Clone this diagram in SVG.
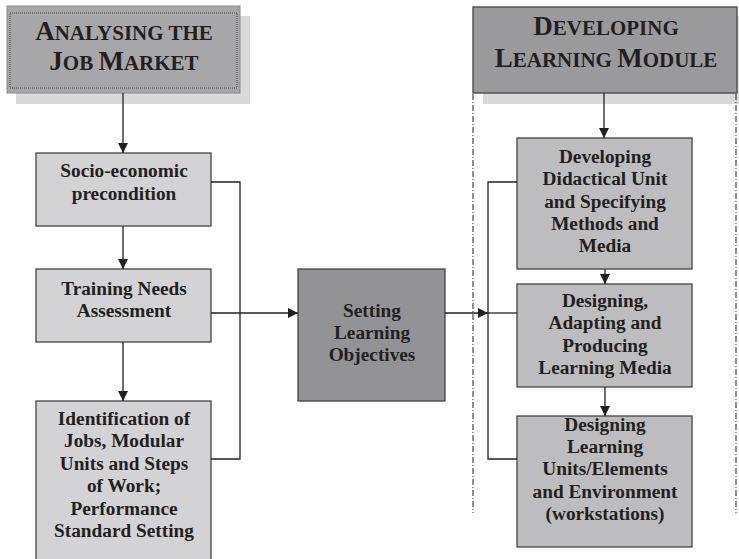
<svg xmlns="http://www.w3.org/2000/svg" width="739" height="559" viewBox="0 0 739 559">
<style>
.t{font-family:"Liberation Serif","Times New Roman",serif;font-weight:bold;fill:#231f20;text-anchor:middle;font-size:19.3px}
.h{font-family:"Liberation Serif","Times New Roman",serif;font-weight:bold;fill:#231f20;text-anchor:middle;font-size:27px}
.s{font-size:21px}
.lb{fill:#d3d3d5;stroke:#444;stroke-width:1.3}
.rb{fill:#bdbdbf;stroke:#444;stroke-width:1.3}
.c{fill:none;stroke:#231f20;stroke-width:1.3}
.dd{fill:none;stroke:#231f20;stroke-width:1;stroke-dasharray:6,2,1,2}
</style>
<defs>
<marker id="a" viewBox="0 0 10 10" refX="10" refY="5" markerWidth="10" markerHeight="10" markerUnits="userSpaceOnUse" orient="auto">
<path d="M0,0 L10,5 L0,10 z" fill="#231f20"/>
</marker>
</defs>
<g id="header-left">
<rect x="16" y="16" width="234" height="88" fill="#d9d9d9"/>
<rect x="7" y="6" width="233" height="87" fill="#a7a7a9" stroke="#8a8a8a" stroke-width="1"/>
<rect x="10" y="13" width="227" height="75" fill="none" stroke="#444" stroke-width="1" stroke-dasharray="1,1"/>
<text class="h" x="124" y="40">A<tspan class="s">NALYSING THE</tspan></text>
<text class="h" x="124" y="70">J<tspan class="s">OB </tspan>M<tspan class="s">ARKET</tspan></text>
</g>
<g id="header-right">
<rect x="483" y="16" width="260" height="88" fill="#d9d9d9"/>
<rect x="473" y="7" width="264" height="86" fill="#9a9a9c" stroke="#444" stroke-width="1.3"/>
<text class="h" x="606" y="35">D<tspan class="s">EVELOPING</tspan></text>
<text class="h" x="606" y="67">L<tspan class="s">EARNING </tspan>M<tspan class="s">ODULE</tspan></text>
</g>
<g id="socio">
<rect class="lb" x="36" y="153" width="175" height="73"/>
<text class="t" x="124" y="177">Socio-economic</text>
<text class="t" x="124" y="200">precondition</text>
</g>
<g id="training">
<rect class="lb" x="36" y="269" width="175" height="73"/>
<text class="t" x="124" y="295">Training Needs</text>
<text class="t" x="124" y="317">Assessment</text>
</g>
<g id="identification">
<rect class="lb" x="36" y="401" width="175" height="170"/>
<text class="t" x="124" y="425">Identification of</text>
<text class="t" x="124" y="447">Jobs, Modular</text>
<text class="t" x="124" y="470">Units and Steps</text>
<text class="t" x="124" y="492">of Work;</text>
<text class="t" x="124" y="515">Performance</text>
<text class="t" x="124" y="537">Standard Setting</text>
</g>
<g id="setting">
<rect x="298" y="269" width="147" height="132" fill="#939395" stroke="#444" stroke-width="1.3"/>
<text class="t" x="372" y="317">Setting</text>
<text class="t" x="372" y="339">Learning</text>
<text class="t" x="372" y="361">Objectives</text>
</g>
<g id="developing">
<rect class="rb" x="517" y="138" width="175" height="131"/>
<text class="t" x="605" y="163">Developing</text>
<text class="t" x="605" y="185">Didactical Unit</text>
<text class="t" x="605" y="208">and Specifying</text>
<text class="t" x="605" y="230">Methods and</text>
<text class="t" x="605" y="252">Media</text>
</g>
<g id="designing-media">
<rect class="rb" x="517" y="284" width="175" height="103"/>
<text class="t" x="605" y="307">Designing,</text>
<text class="t" x="605" y="329">Adapting and</text>
<text class="t" x="605" y="352">Producing</text>
<text class="t" x="605" y="374">Learning Media</text>
</g>
<g id="designing-units">
<rect class="rb" x="517" y="416" width="175" height="131"/>
<text class="t" x="605" y="431">Designing</text>
<text class="t" x="605" y="453">Learning</text>
<text class="t" x="605" y="475">Units/Elements</text>
<text class="t" x="605" y="498">and Environment</text>
<text class="t" x="605" y="520">(workstations)</text>
</g>
<g id="connectors">
<line class="dd" x1="473" y1="94" x2="473" y2="513"/>
<line class="dd" x1="736" y1="94" x2="736" y2="513"/>
<line class="c" x1="123" y1="93" x2="123" y2="153" marker-end="url(#a)"/>
<line class="c" x1="123" y1="226" x2="123" y2="269" marker-end="url(#a)"/>
<line class="c" x1="123" y1="342" x2="123" y2="401" marker-end="url(#a)"/>
<polyline class="c" points="211,182 240,182 240,459 211,459"/>
<line class="c" x1="211" y1="313" x2="298" y2="313" marker-end="url(#a)"/>
<line class="c" x1="445" y1="313" x2="488" y2="313" marker-end="url(#a)"/>
<polyline class="c" points="517,182 488,182 488,459 517,459"/>
<line class="c" x1="488" y1="313" x2="517" y2="313"/>
<line class="c" x1="604" y1="93" x2="604" y2="138" marker-end="url(#a)"/>
<line class="c" x1="605" y1="269" x2="605" y2="284" marker-end="url(#a)"/>
<line class="c" x1="605" y1="387" x2="605" y2="416" marker-end="url(#a)"/>
</g>
</svg>
